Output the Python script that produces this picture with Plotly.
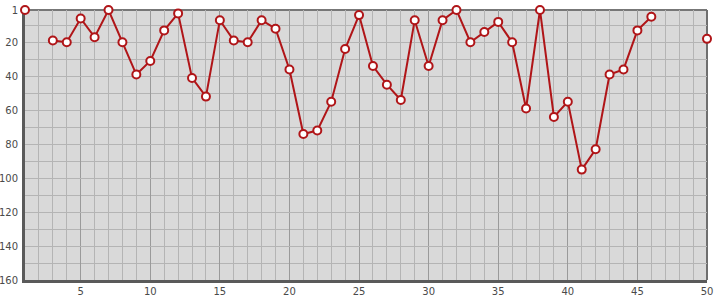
import plotly.graph_objects as go

positions = list(range(1, 51))
ranks = [1, None, 19, 20, 6, 17, 1, 20, 39, 31,
         13, 3, 41, 52, 7, 19, 20, 7, 12, 36,
         74, 72, 55, 24, 4, 34, 45, 54, 7, 34,
         7, 1, 20, 14, 8, 20, 59, 1, 64, 55,
         95, 83, 39, 36, 13, 5, None, None, None, 18]

x_ticks = [5, 10, 15, 20, 25, 30, 35, 40, 45, 50]
y_ticks = [1, 20, 40, 60, 80, 100, 120, 140, 160]

red = "#b01518"

fig = go.Figure()
fig.add_trace(go.Scatter(
    x=positions, y=ranks, mode="lines+markers",
    connectgaps=False, cliponaxis=False,
    line=dict(color=red, width=2),
    marker=dict(symbol="circle", size=8, color="white",
                line=dict(color=red, width=2)),
    hoverinfo="x+y",
))

fig.update_layout(
    width=715, height=300,
    margin=dict(l=25, r=8, t=10, b=20),
    paper_bgcolor="white", plot_bgcolor="#d9d9d9",
    showlegend=False,
    font=dict(family="DejaVu Sans", size=10, color="#4a4a4a"),
)
fig.update_xaxes(
    range=[1, 50], tickmode="array", tickvals=x_ticks,
    showgrid=True, gridcolor="#9a9a9a", gridwidth=1,
    minor=dict(dtick=1, tick0=0, showgrid=True, gridcolor="#b4b4b4", gridwidth=1),
    showline=True, linecolor="#5a5a5a", linewidth=3,
    zeroline=False, ticks="", layer="below traces", automargin=False,
    tickfont=dict(size=10, color="#4a4a4a"),
)
fig.update_yaxes(
    range=[160, 1], tickmode="array", tickvals=y_ticks,
    showgrid=True, gridcolor="#b4b4b4", gridwidth=1,
    minor=dict(dtick=10, tick0=0, showgrid=True, gridcolor="#b4b4b4", gridwidth=1),
    showline=True, linecolor="#5a5a5a", linewidth=3,
    zeroline=False, ticks="", layer="below traces", automargin=False,
    tickfont=dict(size=10, color="#4a4a4a"), ticklabelstandoff=2,
)
# top and right frame edges
fig.add_shape(type="line", xref="x domain", yref="y domain", x0=0, x1=1, y0=1, y1=1,
              line=dict(color="#777777", width=2), layer="below")
fig.add_shape(type="line", xref="x domain", yref="y domain", x0=1, x1=1, y0=0, y1=1,
              line=dict(color="#6e6e6e", width=2), layer="below")

fig.write_html("out.html")
